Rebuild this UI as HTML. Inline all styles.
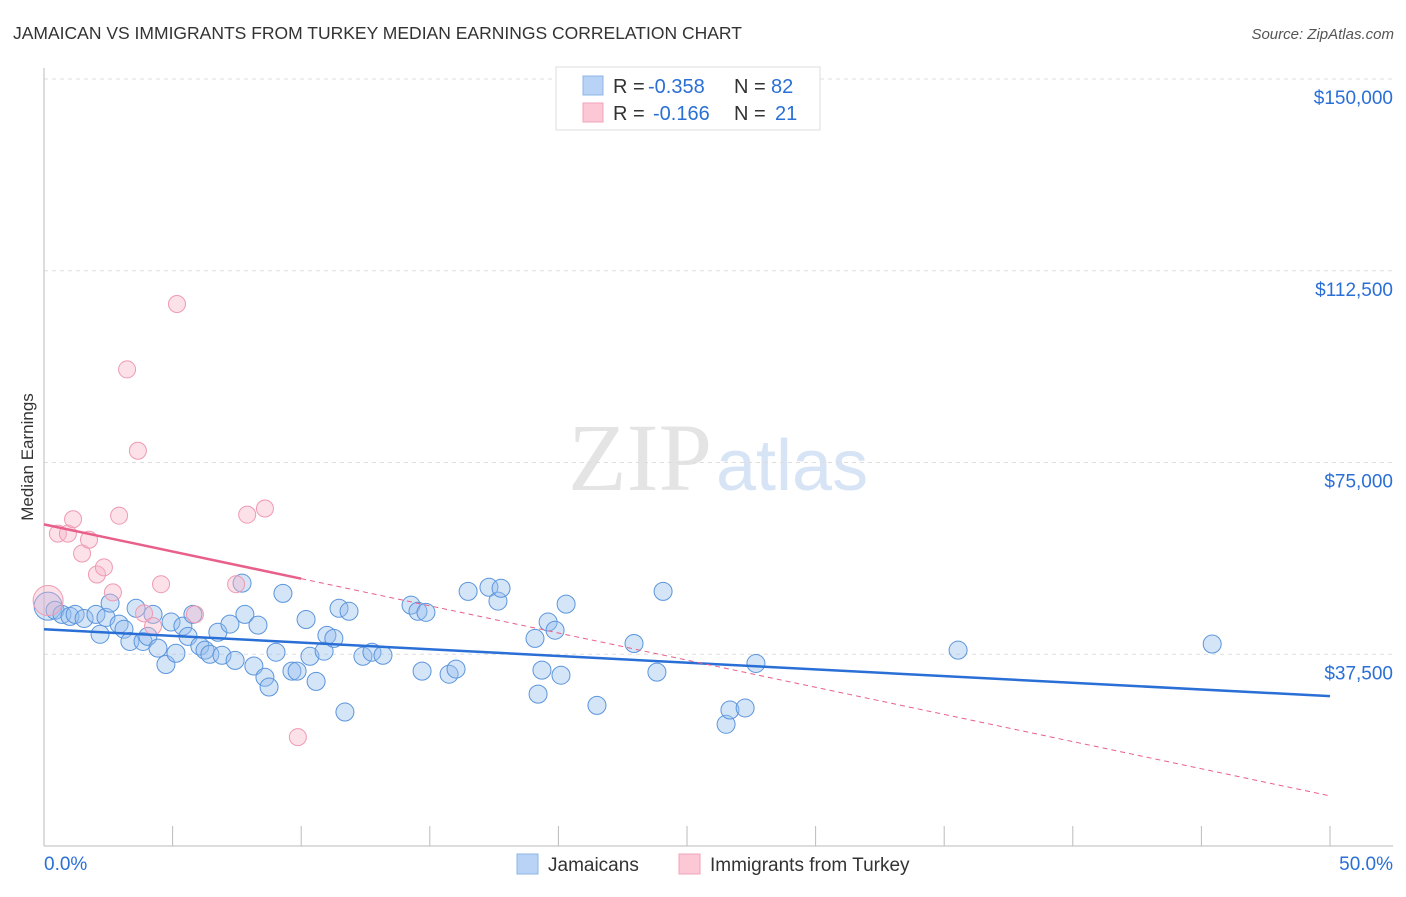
<!DOCTYPE html>
<html><head><meta charset="utf-8"><style>
body{margin:0;background:#fff;font-family:"Liberation Sans",sans-serif;}
</style></head><body>
<svg id="chart" width="1406" height="892" xmlns="http://www.w3.org/2000/svg" font-family="Liberation Sans, sans-serif">
<text x="13" y="39" font-size="17.5" fill="#333">JAMAICAN VS IMMIGRANTS FROM TURKEY MEDIAN EARNINGS CORRELATION CHART</text>
<text x="1394" y="39" font-size="15" fill="#555" text-anchor="end" font-style="italic">Source: ZipAtlas.com</text>
<text x="712" y="490" font-size="96" fill="#e4e4e4" text-anchor="end" font-family="Liberation Serif, serif">ZIP</text>
<text x="716" y="490" font-size="72" fill="#d6e4f5">atlas</text>
<text transform="translate(33,457) rotate(-90)" font-size="17" fill="#333" text-anchor="middle">Median Earnings</text>
<g id="grid"></g><g id="axes"></g><g id="marks"></g>
<g>
<rect x="556" y="67" width="264" height="63" fill="#fff" stroke="#ddd"/>
<rect x="583" y="76" width="20" height="19" fill="#b8d3f5" stroke="#8fb5e8"/>
<rect x="583" y="103" width="20" height="19" fill="#fcc8d6" stroke="#f2a3b8"/>
<text x="613" y="93" font-size="20" fill="#333">R =</text>
<text x="648" y="93" font-size="20" fill="#2a6fd6">-0.358</text>
<text x="734" y="93" font-size="20" fill="#333">N =</text>
<text x="771" y="93" font-size="20" fill="#2a6fd6">82</text>
<text x="613" y="120" font-size="20" fill="#333">R =</text>
<text x="653" y="120" font-size="20" fill="#2a6fd6">-0.166</text>
<text x="734" y="120" font-size="20" fill="#333">N =</text>
<text x="775" y="120" font-size="20" fill="#2a6fd6">21</text>
</g>
<g>
<rect x="517" y="854" width="21" height="20" fill="#b8d3f5" stroke="#8fb5e8"/>
<text x="548" y="871" font-size="19" fill="#333">Jamaicans</text>
<rect x="679" y="854" width="21" height="20" fill="#fcc8d6" stroke="#f2a3b8"/>
<text x="710" y="871" font-size="19" fill="#333">Immigrants from Turkey</text>
</g>
</svg>
<script>
const yTicks=[37500,75000,112500,150000];
const yTickLabels=["$37,500","$75,000","$112,500","$150,000"];
const xTickLabels=["0.0%","50.0%"];
const blueX=[0.16,0.43,0.7,1.01,1.21,1.56,2.02,2.18,2.41,2.57,2.92,3.11,3.34,3.58,3.85,4.04,4.24,4.43,4.74,4.94,5.13,5.4,5.6,5.79,6.06,6.26,6.45,6.76,6.92,7.23,7.43,7.7,7.81,8.16,8.32,8.59,8.75,9.02,9.29,9.64,9.84,10.19,10.34,10.58,10.89,11.0,11.27,11.47,11.7,11.86,12.4,12.75,13.18,14.27,14.54,14.7,14.85,15.75,16.02,16.49,17.3,17.65,17.77,19.09,19.21,19.36,19.6,19.87,20.1,20.3,21.5,22.94,23.83,24.07,26.52,26.67,27.26,27.68,35.54,45.42];
const blueY=[46900,46100,45300,44900,45300,44500,45300,41400,44700,47500,43400,42400,40000,46500,40000,41000,45300,38700,35500,43800,37700,43000,41000,45300,39100,38300,37500,41800,37300,43400,36300,51400,45300,35200,43200,33000,31100,37900,49400,34200,34200,44300,37100,32200,38100,41200,40600,46500,26200,45900,37100,37900,37300,47100,45900,34200,45700,33600,34600,49800,50600,47900,50400,40600,29700,34400,43800,42200,33400,47300,27500,39600,34000,49800,23800,26600,27000,35700,38300,39500];
const pinkX=[0.16,0.54,0.93,1.13,1.48,1.75,2.06,2.33,2.68,2.92,3.23,3.65,3.89,4.24,4.55,5.17,5.87,7.47,7.9,8.59,9.87];
const pinkY=[48000,61100,61100,63900,57200,59900,53100,54500,49600,64600,93200,77300,45500,43000,51200,106000,45300,51200,64800,66000,21300];
const blueFit=[42400,29300], pinkFit=[62900,9800];
const L=44,R=1330,T=79,B=846;
const xs=v=>L+v/50*(R-L), ys=v=>B-v/150000*(B-T);
const NS="http://www.w3.org/2000/svg";
function mk(tag,attrs,parent){const e=document.createElementNS(NS,tag);for(const k in attrs)e.setAttribute(k,attrs[k]);document.getElementById(parent).appendChild(e);return e;}
yTicks.forEach((t,i)=>{
 const g=mk('line',{x1:L,x2:1393,y1:ys(t),y2:ys(t),stroke:'#ddd','stroke-dasharray':'4,4'},'grid');
 
 
 const tx=mk('text',{x:1393,y:ys(t)+25,'font-size':19,fill:'#2a6fd6','text-anchor':'end'},'axes');
 tx.textContent=yTickLabels[i];
 
 
});
let a=mk('line',{x1:L,x2:L,y1:68,y2:B,stroke:'#bbb'},'axes');


a=mk('line',{x1:L,x2:1393,y1:B,y2:B,stroke:'#bbb'},'axes');


for(let i=0;i<=10;i++){const t=mk('line',{x1:xs(i*5),x2:xs(i*5),y1:826,y2:B,stroke:'#bbb'},'axes');
 
 }
let xl=mk('text',{x:44,y:870,'font-size':19,fill:'#2a6fd6'},'axes');xl.textContent=xTickLabels[0];


xl=mk('text',{x:1393,y:870,'font-size':19,fill:'#2a6fd6','text-anchor':'end'},'axes');xl.textContent=xTickLabels[1];


blueX.forEach((x,i)=>{const c=mk('circle',{cx:xs(x),cy:ys(blueY[i]),r:i==0?14:9,fill:'rgba(150,190,238,0.4)',stroke:'#5b95dc','stroke-width':1},'marks');
 
 });
pinkX.forEach((x,i)=>{const c=mk('circle',{cx:xs(x),cy:ys(pinkY[i]),r:i==0?15:8.5,fill:'rgba(248,180,200,0.4)',stroke:'#ef9ab2','stroke-width':1},'marks');
 
 });
let f=mk('line',{x1:xs(0),y1:ys(blueFit[0]),x2:xs(50),y2:ys(blueFit[1]),stroke:'#2a6fd6','stroke-width':2.5},'marks');


const pAt=x=>pinkFit[0]+(pinkFit[1]-pinkFit[0])*x/50;
f=mk('line',{x1:xs(0),y1:ys(pAt(0)),x2:xs(10),y2:ys(pAt(10)),stroke:'#e8608a','stroke-width':2.5},'marks');


f=mk('line',{x1:xs(10),y1:ys(pAt(10)),x2:xs(50),y2:ys(pAt(50)),stroke:'#e8608a','stroke-width':1,'stroke-dasharray':'5,4'},'marks');


</script>
</body></html>
